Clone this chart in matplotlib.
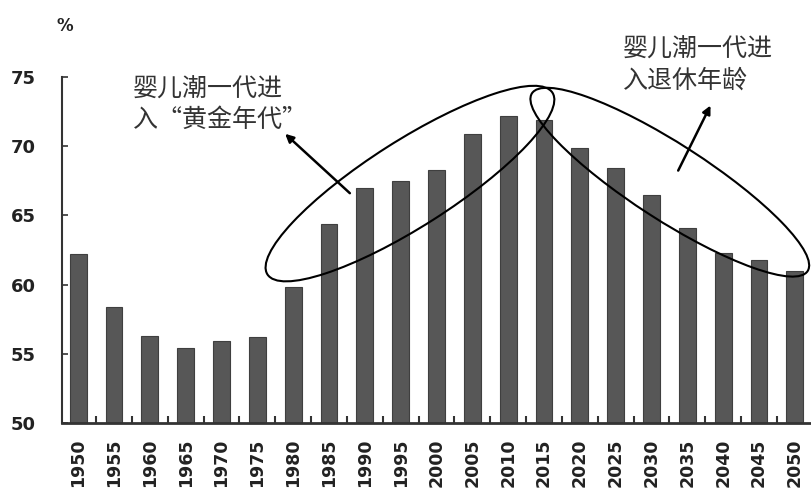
import matplotlib
matplotlib.use('Agg')
import matplotlib.pyplot as plt
from matplotlib.patches import Ellipse
from matplotlib.transforms import ScaledTranslation

# working-age share of population, %
years = [str(y) for y in range(1950, 2051, 5)]
ratio = [62.2, 58.4, 56.3, 55.4, 55.9, 56.2, 59.8, 64.4, 67.0, 67.5, 68.3,
         70.9, 72.2, 71.9, 69.9, 68.4, 66.5, 64.1, 62.3, 61.8, 61.0]
yticks = [50, 55, 60, 65, 70, 75]

note_left = '婴儿潮一代进\n入“黄金年代”'
note_right = '婴儿潮一代进\n入退休年龄'

cjk = ['Noto Sans CJK SC', 'DejaVu Sans']
axis_col = '#333333'

fig = plt.figure(figsize=(8.11, 4.92), dpi=100)
ax = fig.add_axes([0.0764, 0.1402, 0.9236, 0.7033])

x = list(range(len(years)))
ax.bar(x, ratio, width=0.47, color='#575757', edgecolor='#3f3f3f', linewidth=0.8, zorder=2)

ax.set_xlim(-0.45, len(years) - 0.55)
ax.set_ylim(50, 75)

for s in ['top', 'right']:
    ax.spines[s].set_visible(False)
ax.spines['left'].set_linewidth(1.5)
ax.spines['bottom'].set_linewidth(2.0)
ax.spines['left'].set_color(axis_col)
ax.spines['bottom'].set_color(axis_col)

ax.set_yticks(yticks)
ax.set_yticklabels([str(v) for v in yticks], fontsize=13, fontweight='bold',
                   color='#222222', family='DejaVu Sans')
ax.tick_params(axis='y', direction='in', length=4, width=1.2, color=axis_col, pad=19)

ax.set_xticks(x)
ax.set_xticklabels(years, rotation=90, fontsize=12.5, fontweight='bold',
                   color='#222222', family='DejaVu Sans')
ax.tick_params(axis='x', which='major', length=0, pad=11)
ax.set_xticks([i + 0.5 for i in x[:-1]], minor=True)
ax.tick_params(axis='x', which='minor', direction='in', length=5, width=1.5, color=axis_col)

ax.text(-0.38, 78.7, '%', fontsize=12, fontweight='bold', color='#222222',
        ha='center', va='center', clip_on=False)

# the two circled phases, sized in inches around a data point
def ring(cx, cy, w, h, ang):
    tr = fig.dpi_scale_trans + ScaledTranslation(cx, cy, ax.transData)
    e = Ellipse((0, 0), w, h, angle=ang, transform=tr, fill=False,
                edgecolor='black', linewidth=1.5, clip_on=False, zorder=4)
    ax.add_patch(e)

ring(9.26, 67.3, 3.38, 0.86, 32.5)
ring(16.51, 67.4, 3.28, 0.76, -32.8)

ax.annotate('', xy=(5.72, 71.03), xytext=(7.64, 66.47),
            arrowprops=dict(arrowstyle='-|>', color='black', lw=1.8, mutation_scale=12),
            zorder=5)
ax.annotate('', xy=(17.68, 73.12), xytext=(16.71, 68.06),
            arrowprops=dict(arrowstyle='-|>', color='black', lw=1.8, mutation_scale=12),
            zorder=5)

ax.text(1.53, 72.98, note_left, family=cjk, fontsize=18, color='#333333',
        ha='left', va='center', linespacing=1.2, clip_on=False)
ax.text(15.2, 75.87, note_right, family=cjk, fontsize=18, color='#333333',
        ha='left', va='center', linespacing=1.25, clip_on=False)

fig.savefig('out.png', dpi=100, facecolor='white')
